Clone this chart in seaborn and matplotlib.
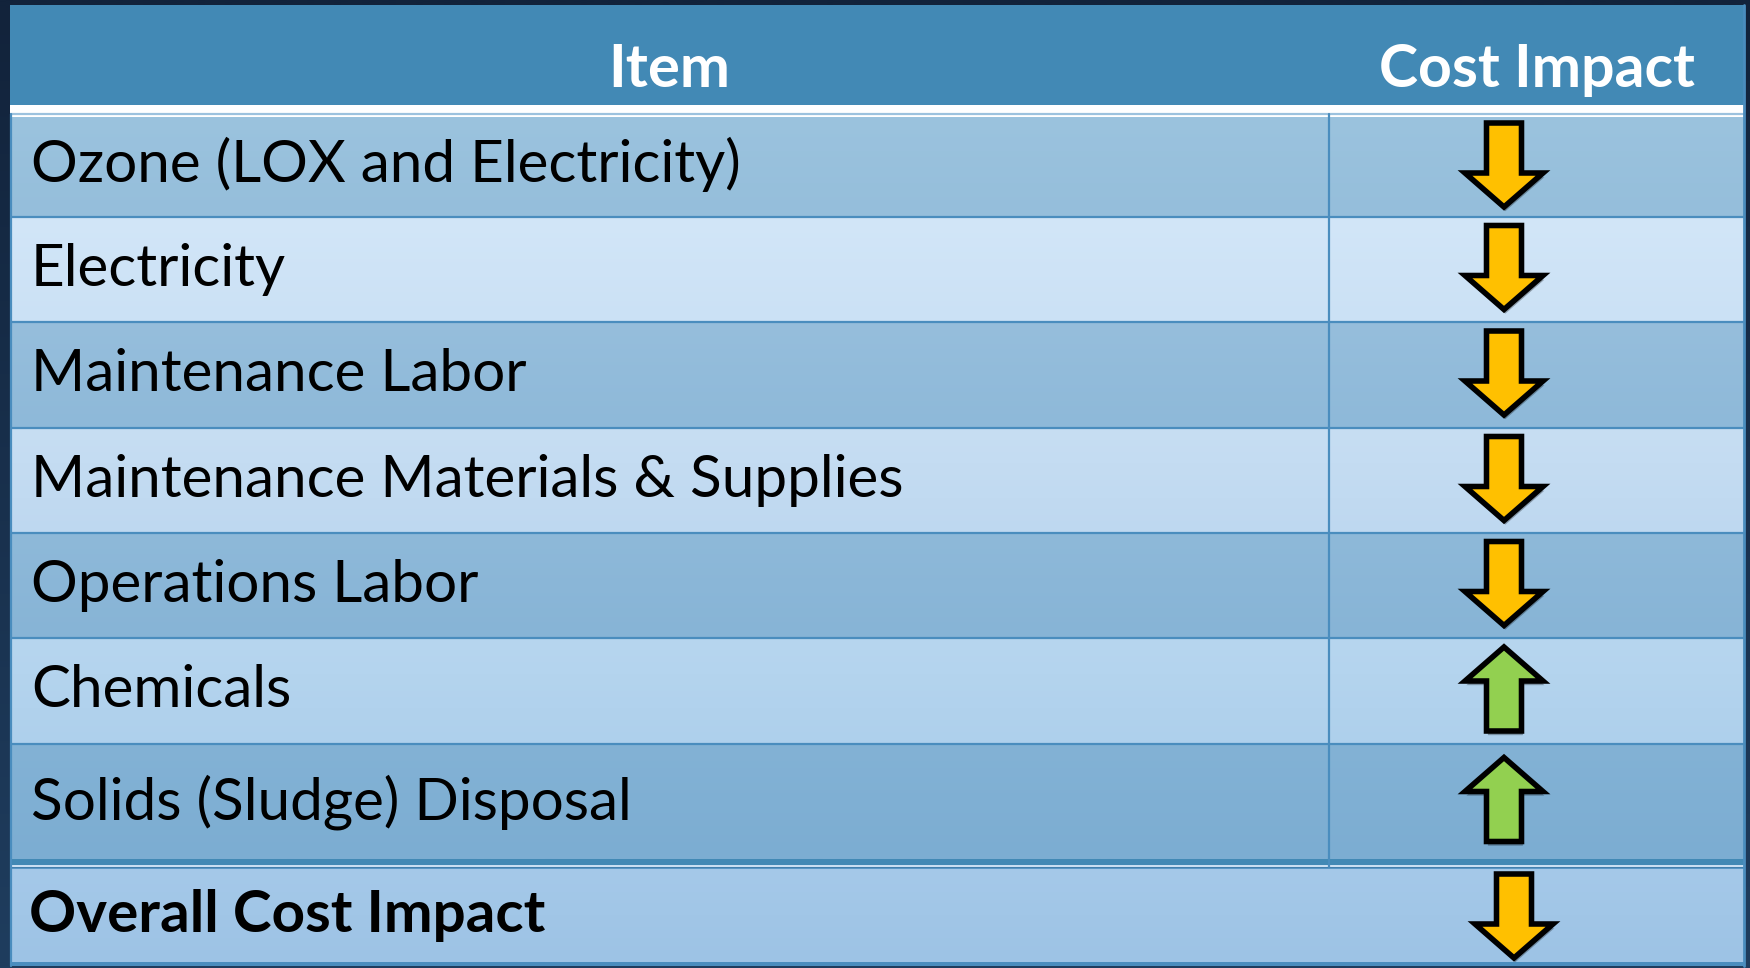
import numpy as np
import matplotlib
matplotlib.use("Agg")
import matplotlib.pyplot as plt
import matplotlib.patheffects as pe
from matplotlib.patches import Rectangle, Polygon
from matplotlib.colors import to_rgb
import seaborn as sns

# ---------------- data ----------------
headers = ["Item", "Cost Impact"]
items = ["Ozone (LOX and Electricity)", "Electricity", "Maintenance Labor",
         "Maintenance Materials & Supplies", "Operations Labor", "Chemicals",
         "Solids (Sludge) Disposal"]
impacts = ["down", "down", "down", "down", "down", "up", "up"]
overall_label = "Overall Cost Impact"
overall_impact = "down"

# ---------------- style ----------------
sns.set_theme(style="white")
plt.rcParams['font.family'] = ['Lato', 'DejaVu Sans']

W, H = 1750, 968
fig = plt.figure(figsize=(17.5, 9.68), dpi=100)
ax = fig.add_axes([0, 0, 1, 1])

HEADER = "#4289B5"
GRID = "#4A8DBE"
ROW_COLORS = [("#9BC3DE", "#95BEDB"), ("#D2E6F8", "#CBE1F5"),
              ("#96BEDC", "#8EB9D9"), ("#C7DEF3", "#BED8F0"),
              ("#8EB9D9", "#87B4D6"), ("#B7D6EF", "#AED0EC"),
              ("#83B2D5", "#7CADD2")]
OVERALL_COLOR = ("#A5C9E9", "#9DC3E5")
DOWN_C = "#FFC000"
UP_C = "#92D050"


def vgrad(x0, x1, y0, y1, c0, c1, z):
    c0 = np.array(to_rgb(c0)); c1 = np.array(to_rgb(c1))
    t = np.linspace(0, 1, 64)[:, None]
    img = (c0 * (1 - t) + c1 * t)[:, None, :]
    ax.imshow(img, extent=(x0, x1, y1, y0), aspect='auto', zorder=z,
              interpolation='bilinear', origin='upper')


# background
vgrad(0, W, 0, H, "#12233b", "#1f3d5e", 0)

L, R, SPLIT = 10, 1745, 1329
# header
ax.add_patch(Rectangle((L, 5), R - L, 100, color=HEADER, zorder=1, lw=0))
ax.add_patch(Rectangle((L, 105), R - L, 12, color="white", zorder=1, lw=0))
ax.plot([L, R], [114, 114], color="#9CC2DE", lw=1.6, zorder=2, solid_capstyle='butt')

row_tops = [117, 217, 322, 428, 533, 638, 744]
row_bots = [217, 322, 428, 533, 638, 744, 859]

for i, (t, b) in enumerate(zip(row_tops, row_bots)):
    c0, c1 = ROW_COLORS[i % len(ROW_COLORS)]
    vgrad(L, R, t, b, c0, c1, 1)
    if i > 0:
        ax.plot([L, R], [t, t], color=GRID, lw=1.6, zorder=3, solid_capstyle='butt')

# thick separator before overall row
ax.add_patch(Rectangle((L, 859), R - L, 6, color=HEADER, zorder=3, lw=0))
ax.add_patch(Rectangle((L, 865), R - L, 2, color="#C9DFF2", zorder=3, lw=0))
ax.plot([L, R], [867.5, 867.5], color=GRID, lw=1.2, zorder=3, solid_capstyle='butt')
vgrad(L, R, 868, 962, OVERALL_COLOR[0], OVERALL_COLOR[1], 1)
ax.add_patch(Rectangle((L, 962), R - L, 4, color=GRID, zorder=3, lw=0))

# borders and column divider
ax.plot([L + 1, L + 1], [114, 966], color=GRID, lw=1.6, zorder=3)
ax.plot([R - 1, R - 1], [5, 966], color=GRID, lw=2.0, zorder=3)
ax.plot([SPLIT, SPLIT], [114, 867], color=GRID, lw=1.6, zorder=3)

# header text
ax.text((L + SPLIT) / 2, 87, headers[0], color="white", fontsize=43,
        fontweight="bold", ha="center", va="baseline", zorder=5)
ax.text((SPLIT + R) / 2, 87, headers[1], color="white", fontsize=42.5,
        fontweight="bold", ha="center", va="baseline", zorder=5)


def arrow(cx, cy, direction, color):
    Ltot, shaft, sw, hw = 84, 50, 35, 78
    top = cy - Ltot / 2
    bot = cy + Ltot / 2
    if direction == "down":
        hb = top + shaft
        pts = [(cx - sw / 2, top), (cx + sw / 2, top), (cx + sw / 2, hb),
               (cx + hw / 2, hb), (cx, bot), (cx - hw / 2, hb), (cx - sw / 2, hb)]
    else:
        hb = bot - shaft
        pts = [(cx - sw / 2, bot), (cx + sw / 2, bot), (cx + sw / 2, hb),
               (cx + hw / 2, hb), (cx, top), (cx - hw / 2, hb), (cx - sw / 2, hb)]
    p = Polygon(pts, closed=True, facecolor=color, edgecolor="black", lw=4.0,
                joinstyle="miter", zorder=6)
    p.set_path_effects([pe.SimplePatchShadow(offset=(1, -3), shadow_rgbFace="black",
                                             alpha=0.3), pe.Normal()])
    ax.add_patch(p)


AX = 1504
for i, (lab, imp) in enumerate(zip(items, impacts)):
    t, b = row_tops[i], row_bots[i]
    ax.text(31, t + 0.655 * (b - t), lab, fontsize=42, color="black",
            ha="left", va="baseline", zorder=5)
    arrow(AX, (t + b) / 2 - 2, imp, DOWN_C if imp == "down" else UP_C)

ax.text(29, 932, overall_label, fontsize=42, fontweight="bold", color="black",
        ha="left", va="baseline", zorder=5)
arrow(AX + 10, 916, overall_impact, DOWN_C if overall_impact == "down" else UP_C)

ax.set_xlim(0, W)
ax.set_ylim(H, 0)
ax.axis("off")
fig.savefig("out.png", dpi=100)
